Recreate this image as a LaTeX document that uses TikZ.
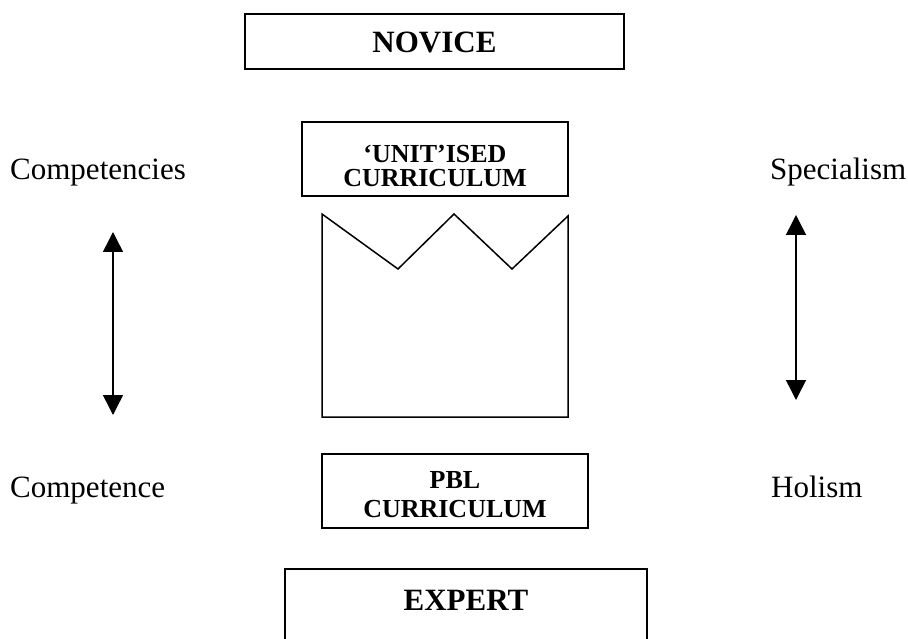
\documentclass[tikz,border=0pt]{standalone}
\usepackage{fontspec}
\setmainfont{Liberation Serif}
\usetikzlibrary{arrows.meta}
\begin{document}
\begin{tikzpicture}[x=1pt,y=-1pt,
  framebox/.style={draw, line width=1.6pt, rectangle, inner sep=0pt},
  boxlabel/.style={font=\bfseries\fontsize{26}{24}\selectfont, align=center, anchor=base, inner sep=0pt},
  bigboxlabel/.style={font=\bfseries\fontsize{31}{31}\selectfont, anchor=base, inner sep=0pt},
  sidelabel/.style={font=\fontsize{31}{31}\selectfont, anchor=base west, inner sep=0pt},
  dblarrow/.style={line width=1.5pt, {Triangle[width=20pt,length=20pt]}-{Triangle[width=20pt,length=20pt]}}]
\useasboundingbox (0,0) rectangle (908,639);
\clip (0,0) rectangle (908,639);

% stages
\node[framebox, minimum width=379pt, minimum height=55pt] (novice) at (434.5,41.5) {};
\node[bigboxlabel] (novicetext) at (434.5,53) {NOVICE};

\node[framebox, minimum width=266pt, minimum height=74pt] (unitised) at (435,159) {};
\node[boxlabel] (unitisedtext) at (435,187) {‘UNIT’ISED\\CURRICULUM};

\node[framebox, minimum width=266pt, minimum height=74pt] (pbl) at (455,491) {};
\node[boxlabel, font=\bfseries\fontsize{26}{29}\selectfont] (pbltext) at (455,517) {PBL\\CURRICULUM};

\node[framebox, minimum width=362pt, minimum height=120pt] (expert) at (466,629) {};
\node[bigboxlabel] (experttext) at (466,610) {EXPERT};

% crown-shaped block between the curricula
\draw[line width=1.5pt, line join=miter]
  (322,214) -- (398,269) -- (454,214) -- (512,269) -- (568,216)
  -- (568,417) -- (322,417) -- cycle;

% side labels
\node[sidelabel] (competencies) at (10,180) {Competencies};
\node[sidelabel] (competence) at (10,497) {Competence};
\node[sidelabel] (specialism) at (770,180) {Specialism};
\node[sidelabel] (holism) at (771,497) {Holism};

% double-headed arrows
\coordinate (lt) at (113,232);
\coordinate (lb) at (113,415);
\coordinate (rt) at (796,215);
\coordinate (rb) at (796,400);
\draw[dblarrow] (lt) -- (lb);
\draw[dblarrow] (rt) -- (rb);
\end{tikzpicture}
\end{document}
